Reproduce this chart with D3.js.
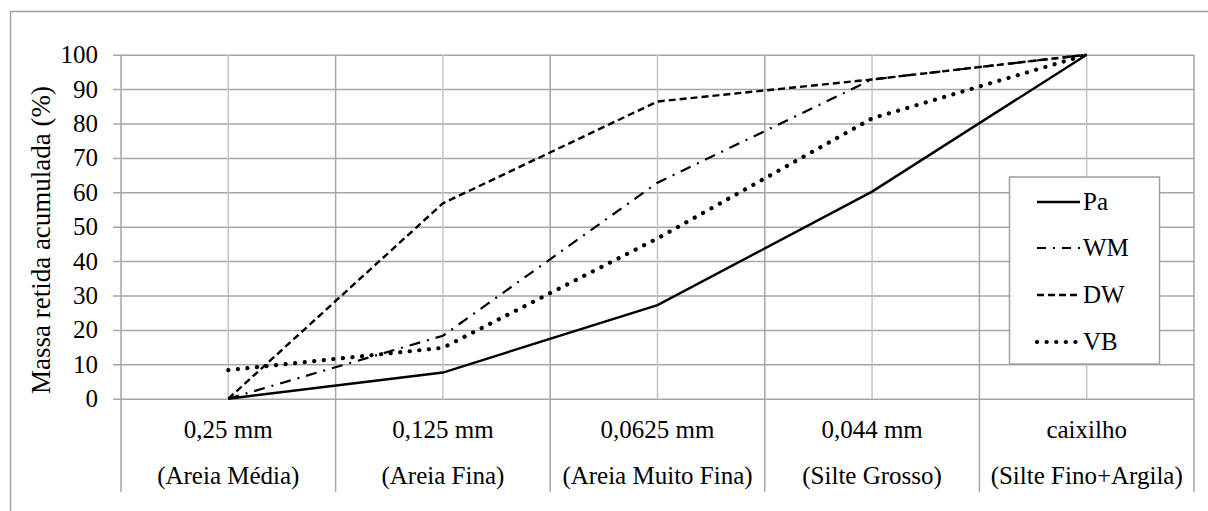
<!DOCTYPE html>
<html>
<head>
<meta charset="utf-8">
<script src="https://cdn.jsdelivr.net/npm/d3@7"></script>
<style>
  html, body { margin: 0; padding: 0; background: #fff; }
  svg { display: block; }
  svg text { font-family: "Liberation Serif", Tinos, "Times New Roman", Times, "DejaVu Serif", serif; }
</style>
</head>
<body>
<div id="chart"></div>
<script>
// categories (sieve sizes) and their descriptions
const sizes = ['0,25 mm', '0,125 mm', '0,0625 mm', '0,044 mm', 'caixilho'];
const classes = ['(Areia Média)', '(Areia Fina)', '(Areia Muito Fina)', '(Silte Grosso)', '(Silte Fino+Argila)'];

// cumulative retained mass (%) per sample
const pa = [0, 7.6, 27.2, 60.2, 100];
const wm = [0, 18.3, 62.8, 92.8, 100];
const dw = [0, 56.8, 86.4, 92.8, 100];
const vb = [8.3, 14.8, 46.6, 81.5, 100];

const yTicks = [0, 10, 20, 30, 40, 50, 60, 70, 80, 90, 100];
const seriesNames = ['Pa', 'WM', 'DW', 'VB'];

const width = 1208;
const height = 511;
const plotLeft = 121, plotRight = 1194, plotTop = 54.7, plotBottom = 398.7;

const svg = d3.select('#chart').append('svg')
  .attr('width', width)
  .attr('height', height);

// outer chart frame
svg.append('rect')
  .attr('x', 10.5).attr('y', 11.5)
  .attr('width', 1220).attr('height', 520)
  .attr('fill', 'none').attr('stroke', '#a0a0a0').attr('stroke-width', 1.5);

const x = d3.scaleBand().domain(sizes).range([plotLeft, plotRight]);
const y = d3.scaleLinear().domain([0, 100]).range([plotBottom, plotTop]);
const cx = d => x(d) + x.bandwidth() / 2;

// y axis with gridlines running across the plot
const yAxis = svg.append('g')
  .attr('transform', `translate(${plotRight},0)`)
  .call(d3.axisLeft(y).tickValues(yTicks).tickSize(plotRight - 113).tickPadding(15));
yAxis.attr('font-family', null);
yAxis.select('.domain').remove();
yAxis.selectAll('line').attr('stroke', '#a6a6a6').attr('stroke-width', 1.5);
yAxis.selectAll('text')
  .attr('font-size', 25)
  .attr('fill', '#000');

// lighter vertical gridlines at category centres
svg.append('g').selectAll('line')
  .data(sizes)
  .join('line')
  .attr('x1', cx).attr('x2', cx)
  .attr('y1', plotTop).attr('y2', plotBottom)
  .attr('stroke', '#c4c4c4').attr('stroke-width', 1.5);

// darker separators between categories, down through the label area
const bounds = sizes.map(d => x(d)).concat([plotRight]);
svg.append('g').selectAll('line')
  .data(bounds)
  .join('line')
  .attr('x1', d => d).attr('x2', d => d)
  .attr('y1', plotTop).attr('y2', 492)
  .attr('stroke', '#a6a6a6').attr('stroke-width', 1.5);

// category labels
const labels = svg.append('g').attr('font-size', 25).attr('text-anchor', 'middle').attr('fill', '#000');
labels.selectAll('text.size')
  .data(sizes)
  .join('text')
  .attr('class', 'size')
  .attr('x', cx)
  .attr('y', 438)
  .text(d => d);
labels.selectAll('text.cls')
  .data(classes)
  .join('text')
  .attr('class', 'cls')
  .attr('x', (d, i) => cx(sizes[i]))
  .attr('y', 484)
  .text(d => d);

// y axis title
svg.append('text')
  .attr('transform', 'translate(50,240) rotate(-90)')
  .attr('text-anchor', 'middle')
  .attr('font-size', 27)
  .attr('fill', '#000')
  .text('Massa retida acumulada (%)');

const styles = {
  Pa: { dash: null, width: 2.4, cap: 'butt' },
  WM: { dash: '11 7 2 7', width: 2.2, cap: 'butt' },
  DW: { dash: '7 4', width: 2.4, cap: 'butt' },
  VB: { dash: '0.1 9.5', width: 4.2, cap: 'round' }
};
const seriesData = [pa, wm, dw, vb];

const line = d3.line()
  .x((d, i) => cx(sizes[i]))
  .y(d => y(d));

svg.append('g').selectAll('path')
  .data(seriesData)
  .join('path')
  .attr('d', d => line(d))
  .attr('fill', 'none')
  .attr('stroke', '#000')
  .attr('stroke-width', (d, i) => styles[seriesNames[i]].width)
  .attr('stroke-linecap', (d, i) => styles[seriesNames[i]].cap)
  .attr('stroke-dasharray', (d, i) => styles[seriesNames[i]].dash);

// legend
const legend = svg.append('g');
legend.append('rect')
  .attr('x', 1009.5).attr('y', 177)
  .attr('width', 150).attr('height', 187)
  .attr('fill', '#fff').attr('stroke', '#a0a0a0').attr('stroke-width', 1.5);

const legendY = [202, 248, 295, 342];
seriesNames.forEach((name, i) => {
  const s = styles[name];
  legend.append('line')
    .attr('x1', 1037).attr('x2', 1080)
    .attr('y1', legendY[i]).attr('y2', legendY[i])
    .attr('stroke', '#000')
    .attr('stroke-width', s.width)
    .attr('stroke-linecap', s.cap)
    .attr('stroke-dasharray', name === 'WM' ? '9 7 2 7' : s.dash);
  legend.append('text')
    .attr('x', 1083).attr('y', legendY[i] + 8)
    .attr('font-size', 25)
    .attr('fill', '#000')
    .text(name);
});
</script>
</body>
</html>
